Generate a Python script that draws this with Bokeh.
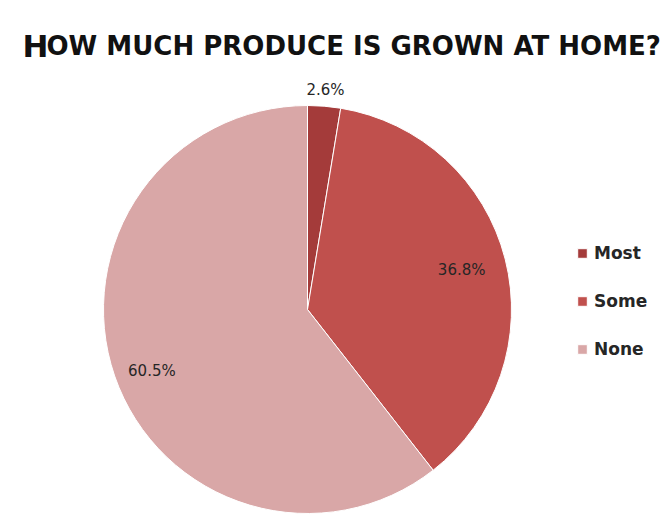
import math
from bokeh.plotting import figure
from bokeh.models import ColumnDataSource, Range1d, Label, Legend, LegendItem
from bokeh.core.properties import value
from bokeh.embed import file_html
from bokeh.resources import INLINE

# ---- data ----
categories = ["Most", "Some", "None"]
percents = [2.6, 36.8, 60.5]
labels = ["2.6%", "36.8%", "60.5%"]
colors = ["#A43B3A", "#C0504D", "#D9A7A7"]

# label placement (style): radius factor and small angular nudge in degrees
label_radius_factor = [1.08, 0.78, 0.82]
label_angle_nudge = [0.0, 0.0, -2.5]

W, H = 670, 522
cx, cy, R = 307, 213, 204

total = sum(percents)
starts, ends, lx, ly = [], [], [], []
cum = 0.0
for v, f, nd in zip(percents, label_radius_factor, label_angle_nudge):
    a0 = math.pi / 2 - 2 * math.pi * cum / total
    mid = cum + v / 2
    cum += v
    a1 = math.pi / 2 - 2 * math.pi * cum / total
    starts.append(a0)
    ends.append(a1)
    am = 2 * math.pi * mid / total + math.radians(nd)
    lx.append(cx + R * f * math.sin(am))
    ly.append(cy + R * f * math.cos(am))

src = ColumnDataSource(dict(cat=categories, pct=percents, start=starts, end=ends,
                            color=colors, label=labels, lx=lx, ly=ly))

p = figure(width=W, height=H, output_backend="svg", toolbar_location=None,
           x_range=Range1d(0, W), y_range=Range1d(0, H), min_border=0)
p.axis.visible = False
p.grid.visible = False
p.outline_line_color = None
p.background_fill_color = "white"

r = p.wedge(x=cx, y=cy, radius=R, start_angle="start", end_angle="end",
            direction="clock", fill_color="color", line_color="white",
            line_width=1, source=src)

p.text(x="lx", y="ly", text="label", source=src, text_align="center",
       text_baseline="middle", text_font=value("DejaVu Sans"),
       text_font_size="15px", text_color="#262626")

# title in small caps
p.add_layout(Label(x=22, y=477, text="H", text_font="DejaVu Sans",
                   text_font_style="bold", text_font_size="31px",
                   text_color="#111111", text_baseline="alphabetic"))
p.add_layout(Label(x=46, y=477, text="OW MUCH PRODUCE IS GROWN AT HOME?",
                   text_font="DejaVu Sans", text_font_style="bold",
                   text_font_size="26px", text_color="#111111",
                   text_baseline="alphabetic"))

legend = Legend(items=[LegendItem(label=c, renderers=[r], index=i)
                       for i, c in enumerate(categories)],
                location=(576, 163), glyph_width=12, glyph_height=12,
                label_height=12, spacing=28, padding=0, margin=0,
                border_line_color=None, background_fill_alpha=0,
                label_text_font="DejaVu Sans", label_text_font_style="bold",
                label_text_font_size="17px",
                label_text_color="#262626", label_standoff=6)
p.add_layout(legend)

open("out.html", "w").write(file_html(p, INLINE))
